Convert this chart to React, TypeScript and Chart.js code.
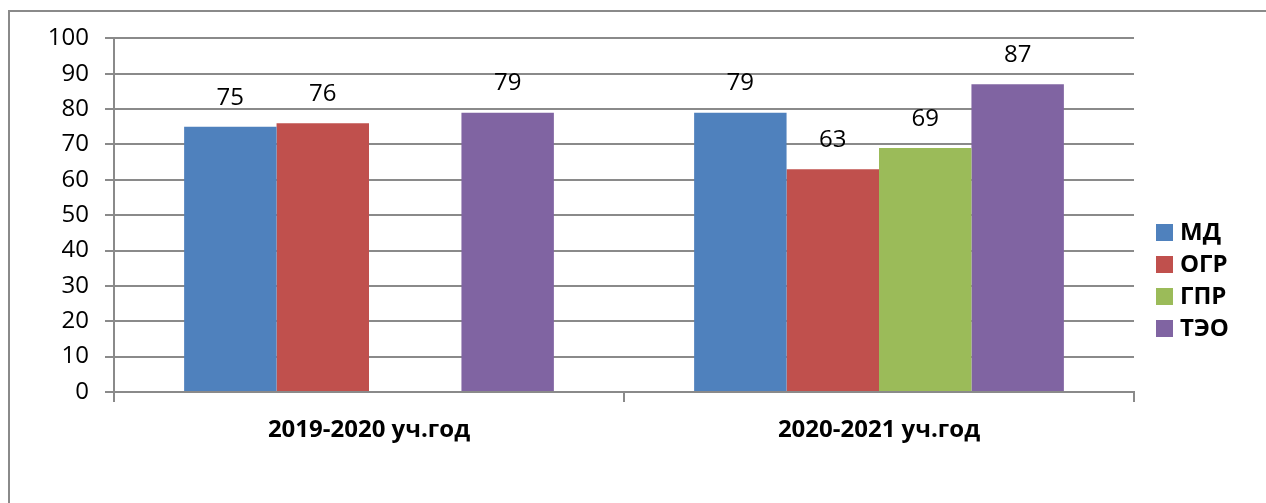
import React, { useEffect, useRef } from "react";
import { Chart, registerables } from "chart.js";

Chart.register(...registerables);

const categories = ["2019-2020 уч.год", "2020-2021 уч.год"];
const seriesNames = ["МД", "ОГР", "ГПР", "ТЭО"];
const seriesColors = ["#4F81BD", "#C0504D", "#9BBB59", "#8064A2"];
const valuesMD = [75, 79];
const valuesOGR = [76, 63];
const valuesGPR = [null, 69];
const valuesTEO = [79, 87];
const yTicks = [0, 10, 20, 30, 40, 50, 60, 70, 80, 90, 100];

const FONT = "'Open Sans', 'Noto Sans', sans-serif";
const GRID = "#8a8a8a";

const labelPlugin = {
  id: "valueLabels",
  afterDatasetsDraw(chart: any) {
    const ctx = chart.ctx;
    ctx.save();
    ctx.font = `24px ${FONT}`;
    ctx.fillStyle = "#000";
    ctx.textAlign = "center";
    ctx.textBaseline = "middle";
    chart.data.datasets.forEach((ds: any, i: number) => {
      const meta = chart.getDatasetMeta(i);
      meta.data.forEach((el: any, j: number) => {
        const v = ds.data[j];
        if (v === null || v === undefined) return;
        ctx.fillText(String(v), el.x, el.y - 29);
      });
    });
    ctx.restore();
  },
};

const legendPlugin = {
  id: "customLegend",
  afterDraw(chart: any) {
    const ctx = chart.ctx;
    ctx.save();
    ctx.font = `bold 24px ${FONT}`;
    ctx.textAlign = "left";
    ctx.textBaseline = "middle";
    chart.data.datasets.forEach((ds: any, i: number) => {
      const cy = 224.5 + i * 32;
      ctx.fillStyle = ds.backgroundColor;
      ctx.fillRect(1148, cy - 8.5, 17, 17);
      ctx.fillStyle = "#000";
      ctx.fillText(ds.label, 1172, cy + 1);
    });
    ctx.restore();
  },
};

export default function App() {
  const ref = useRef<HTMLCanvasElement>(null);
  useEffect(() => {
    if (!ref.current) return;
    const allValues = [valuesMD, valuesOGR, valuesGPR, valuesTEO];
    const chart = new Chart(ref.current, {
      type: "bar",
      data: {
        labels: categories,
        datasets: seriesNames.map((name, i) => ({
          label: name,
          data: allValues[i] as any,
          backgroundColor: seriesColors[i],
          borderWidth: 0,
          categoryPercentage: 0.725,
          barPercentage: 1,
        })),
      },
      options: {
        responsive: false,
        animation: false,
        devicePixelRatio: 1,
        layout: { padding: { left: 0, right: 124, top: 29, bottom: 0 } },
        plugins: {
          legend: { display: false },
          tooltip: { enabled: false },
        },
        scales: {
          x: {
            grid: {
              offset: true,
              drawOnChartArea: false,
              drawTicks: true,
              tickLength: 10,
              color: GRID,
              lineWidth: 2,
            },
            border: { display: true, color: GRID, width: 2 },
            ticks: {
              color: "#000",
              font: { family: FONT, size: 24, weight: "bold" },
              padding: 14,
            },
            afterFit(scale: any) {
              scale.height = 111;
            },
          },
          y: {
            min: 0,
            max: 100,
            afterBuildTicks(scale: any) {
              scale.ticks = yTicks.map((v) => ({ value: v }));
            },
            grid: {
              color: GRID,
              lineWidth: 2,
              tickLength: 9,
            },
            border: { display: true, color: GRID, width: 2 },
            ticks: {
              color: "#000",
              font: { family: FONT, size: 24 },
              padding: 16,
            },
            afterFit(scale: any) {
              scale.width = 106;
            },
          },
        },
      },
      plugins: [labelPlugin, legendPlugin],
    });
    return () => chart.destroy();
  }, []);
  return (
    <div style={{ width: 1250, height: 495, position: "relative" }}>
      <div
        style={{
          position: "fixed",
          left: 8,
          top: 10,
          right: 0,
          bottom: 0,
          borderLeft: `2px solid ${GRID}`,
          borderTop: `2px solid ${GRID}`,
          pointerEvents: "none",
        }}
      />
      <canvas ref={ref} width={1250} height={495} style={{ display: "block", position: "relative" }} />
    </div>
  );
}
